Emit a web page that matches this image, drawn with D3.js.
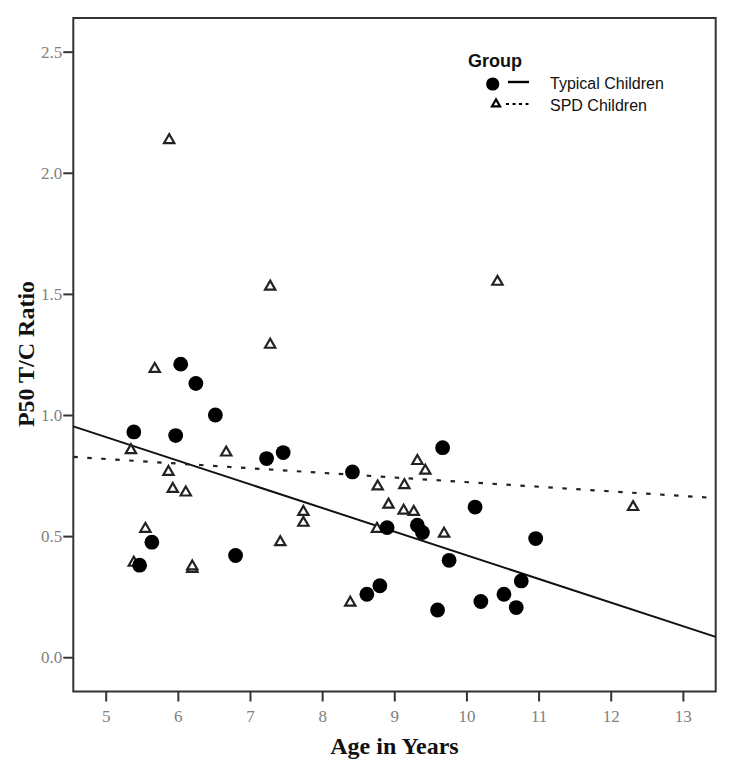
<!DOCTYPE html>
<html>
<head>
<meta charset="utf-8">
<script src="https://cdn.jsdelivr.net/npm/d3@7"></script>
<style>
  html, body { margin: 0; padding: 0; background: #fff; }
  svg { display: block; }
</style>
</head>
<body>
<svg id="chart" width="731" height="769"></svg>
<script>
// ---- Data ----
const typicalAge = [5.39, 6.04, 6.25, 5.97, 6.52, 7.23, 7.46, 8.42, 9.67, 8.90, 9.32, 9.39, 10.12, 10.96, 9.76, 10.76, 8.80, 8.62, 10.20, 10.52, 10.69, 9.60, 5.64, 5.47, 6.80];
const typicalRatio = [0.93, 1.21, 1.13, 0.915, 1.00, 0.82, 0.845, 0.765, 0.865, 0.535, 0.545, 0.515, 0.62, 0.49, 0.40, 0.315, 0.295, 0.26, 0.23, 0.26, 0.205, 0.195, 0.475, 0.38, 0.42];

const spdAge = [5.88, 7.28, 7.28, 5.68, 5.35, 6.67, 5.87, 5.93, 6.11, 5.55, 5.39, 6.20, 6.20, 7.42, 7.74, 7.74, 8.39, 8.77, 9.14, 9.32, 9.43, 8.92, 9.13, 9.27, 8.76, 9.69, 10.43, 12.31];
const spdRatio = [2.135, 1.53, 1.29, 1.19, 0.855, 0.845, 0.765, 0.695, 0.68, 0.53, 0.39, 0.365, 0.375, 0.475, 0.60, 0.555, 0.225, 0.705, 0.71, 0.81, 0.77, 0.63, 0.605, 0.60, 0.53, 0.51, 1.55, 0.62];

// fit lines: [age, ratio] at the two ends of the plotted range
const typicalFit = [[4.551, 0.953], [13.455, 0.084]];
const spdFit = [[4.551, 0.827], [13.455, 0.657]];

const xTicks = [5, 6, 7, 8, 9, 10, 11, 12, 13];
const yTicks = [0.0, 0.5, 1.0, 1.5, 2.0, 2.5];
const xDomain = [4.551, 13.455];
const yDomain = [-0.1415, 2.639];

const legendTitle = "Group";
const legendLabels = ["Typical Children", "SPD Children"];
const xTitle = "Age in Years";
const yTitle = "P50 T/C Ratio";

// ---- Layout ----
const plot = { left: 73.3, right: 715.7, top: 18, bottom: 691.5 };
const svg = d3.select("#chart");

const x = d3.scaleLinear().domain(xDomain).range([plot.left, plot.right]);
const y = d3.scaleLinear().domain(yDomain).range([plot.bottom, plot.top]);

// axes
const xAxis = svg.append("g")
  .attr("transform", `translate(0,${plot.bottom})`)
  .call(d3.axisBottom(x).tickValues(xTicks).tickFormat(d3.format("d")).tickSize(10).tickPadding(8).tickSizeOuter(0));
const yAxis = svg.append("g")
  .attr("transform", `translate(${plot.left},0)`)
  .call(d3.axisLeft(y).tickValues(yTicks).tickFormat(d3.format(".1f")).tickSize(10).tickPadding(1).tickSizeOuter(0));

[xAxis, yAxis].forEach(g => {
  g.select(".domain").remove();
  g.selectAll(".tick line").attr("stroke", "#333").attr("stroke-width", 2);
  g.selectAll(".tick text")
    .attr("fill", "#808080")
    .style("font-family", "'Liberation Serif', 'DejaVu Serif', serif")
    .style("font-size", "17px");
});

// frame
svg.append("rect")
  .attr("x", plot.left).attr("y", plot.top)
  .attr("width", plot.right - plot.left).attr("height", plot.bottom - plot.top)
  .attr("fill", "none").attr("stroke", "#333").attr("stroke-width", 2);

// fit lines
const line = d3.line().x(d => x(d[0])).y(d => y(d[1]));
svg.append("path").datum(typicalFit).attr("d", line)
  .attr("fill", "none").attr("stroke", "#111").attr("stroke-width", 2);
svg.append("path").datum(spdFit).attr("d", line)
  .attr("fill", "none").attr("stroke", "#222").attr("stroke-width", 2.2)
  .attr("stroke-dasharray", "4.5,9.5");

// points
const spdPts = spdAge.map((a, i) => [a, spdRatio[i]]);
const typPts = typicalAge.map((a, i) => [a, typicalRatio[i]]);
const tri = d3.symbol().type(d3.symbolTriangle).size(46);

svg.append("g").selectAll("path").data(spdPts).join("path")
  .attr("d", tri)
  .attr("transform", d => `translate(${x(d[0])},${y(d[1])})`)
  .attr("fill", "#fff").attr("stroke", "#222").attr("stroke-width", 2.2);

svg.append("g").selectAll("circle").data(typPts).join("circle")
  .attr("cx", d => x(d[0])).attr("cy", d => y(d[1]))
  .attr("r", 7.4).attr("fill", "#000");

// axis titles
svg.append("text")
  .attr("x", (plot.left + plot.right) / 2).attr("y", 754)
  .attr("text-anchor", "middle")
  .style("font-family", "'Liberation Serif', 'DejaVu Serif', serif")
  .style("font-size", "24px").style("font-weight", "bold")
  .attr("fill", "#111")
  .text(xTitle);
svg.append("text")
  .attr("transform", "translate(34,354) rotate(-90)")
  .attr("text-anchor", "middle")
  .style("font-family", "'Liberation Serif', 'DejaVu Serif', serif")
  .style("font-size", "24px").style("font-weight", "bold")
  .attr("fill", "#111")
  .text(yTitle);

// legend
const lg = svg.append("g").style("font-family", "'Liberation Sans', Arial, sans-serif");
lg.append("text").attr("x", 468).attr("y", 67)
  .style("font-size", "18px").style("font-weight", "bold").attr("fill", "#111")
  .text(legendTitle);
lg.append("circle").attr("cx", 492.7).attr("cy", 84).attr("r", 6.6).attr("fill", "#000");
lg.append("line").attr("x1", 508).attr("x2", 529).attr("y1", 82).attr("y2", 82)
  .attr("stroke", "#000").attr("stroke-width", 2.4);
lg.append("path").attr("d", d3.symbol().type(d3.symbolTriangle).size(28))
  .attr("transform", "translate(496,104)")
  .attr("fill", "#fff").attr("stroke", "#000").attr("stroke-width", 2.2);
lg.append("line").attr("x1", 506).attr("x2", 530).attr("y1", 104).attr("y2", 104)
  .attr("stroke", "#000").attr("stroke-width", 2.2).attr("stroke-dasharray", "3,3.5");
lg.selectAll("text.item").data(legendLabels).join("text")
  .attr("class", "item")
  .attr("x", 550).attr("y", (d, i) => 89 + i * 21.5)
  .style("font-size", "16px").attr("fill", "#111")
  .text(d => d);
</script>
</body>
</html>
